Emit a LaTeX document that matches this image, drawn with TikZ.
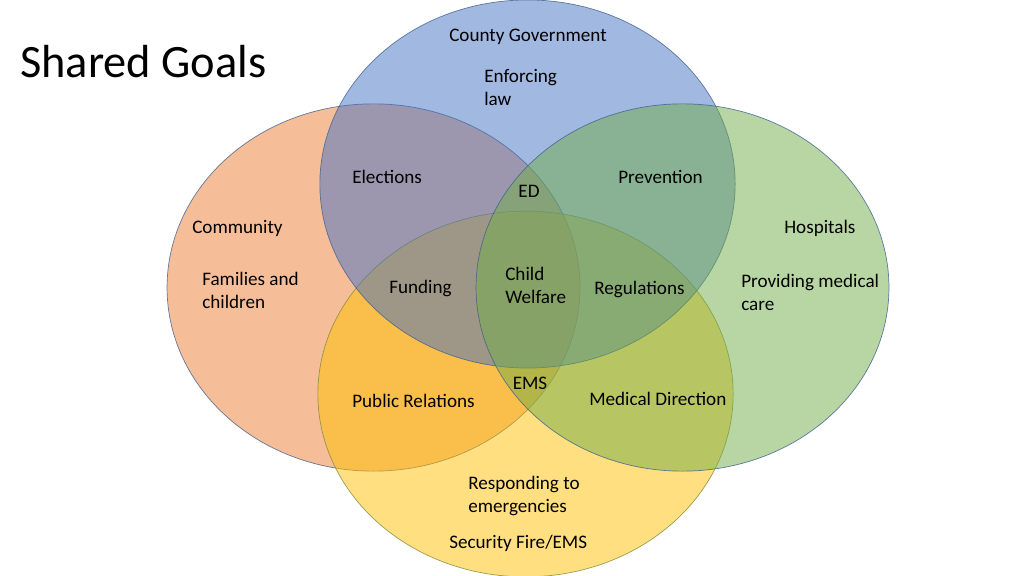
\documentclass[tikz,border=0pt]{standalone}
\usepackage{fontspec}
\setmainfont{Carlito}
\definecolor{GovFill}{HTML}{4472C4}
\definecolor{CommFill}{HTML}{ED7D31}
\definecolor{HospFill}{HTML}{70AD47}
\definecolor{EmsFill}{HTML}{FFC000}
\definecolor{SetLine}{HTML}{3F5F8F}
\definecolor{EmsLine}{HTML}{7F8A3A}
\begin{document}
\begin{tikzpicture}[x=0.025cm,y=-0.025cm]
          \tikzset{SetStyle/.style = {line width=0.5pt, fill opacity=0.5, draw=SetLine, draw opacity=0.8}};
          \tikzset{Label/.style = {font=\fontsize{13.6}{16.4}\selectfont, inner sep=0pt, align=left, anchor=west, yshift=-0.04cm}};
          \useasboundingbox (0,0) rectangle (1024,576);

          \node[anchor=west, inner sep=0pt, font=\fontsize{33}{40}\selectfont] (title) at (20,62) {Shared Goals};

          % the four sets
          \draw[SetStyle, fill=CommFill] (373.5,287.5) ellipse [x radius=5.16cm, y radius=4.59cm];
          \draw[SetStyle, fill=EmsFill, draw=EmsLine] (525.5,394) ellipse [x radius=5.19cm, y radius=4.57cm];
          \draw[SetStyle, fill=GovFill] (527.5,184) ellipse [x radius=5.19cm, y radius=4.6cm];
          \draw[SetStyle, fill=HospFill] (682.5,287.5) ellipse [x radius=5.16cm, y radius=4.59cm];

          % set names
          \node[Label, anchor=center] (gov) at (528,35) {County Government};
          \node[Label] (comm) at (192,227) {Community};
          \node[Label] (hosp) at (784,227) {Hospitals};
          \node[Label] (sec) at (449,542) {Security Fire/EMS};

          % goals
          \node[Label] (law) at (484,86) {Enforcing\\law};
          \node[Label] (fam) at (202,289) {Families and\\children};
          \node[Label] (care) at (741,291) {Providing medical\\care};
          \node[Label] (resp) at (468,494) {Responding to\\emergencies};

          % overlaps
          \node[Label] (elect) at (352,175) {Elections};
          \node[Label] (prev) at (618,175) {Prevention};
          \node[Label, anchor=center] (ed) at (529,190) {ED};
          \node[Label] (fund) at (389,287) {Funding};
          \node[Label] (child) at (505,284) {Child\\Welfare};
          \node[Label] (regs) at (594,288) {Regulations};
          \node[Label, anchor=center] (ems) at (530,382) {EMS};
          \node[Label] (pr) at (352,399) {Public Relations};
          \node[Label] (med) at (589,397) {Medical Direction};
        \end{tikzpicture}
\end{document}
